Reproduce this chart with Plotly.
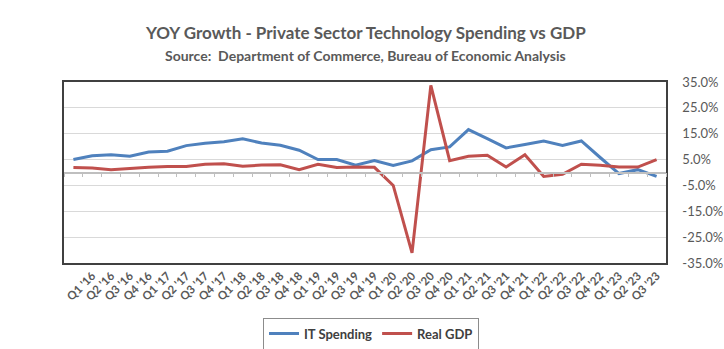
import plotly.graph_objects as go

quarters = ["Q4 '15",
            "Q1 '16", "Q2 '16", "Q3 '16", "Q4 '16",
            "Q1 '17", "Q2 '17", "Q3 '17", "Q4 '17",
            "Q1 '18", "Q2 '18", "Q3 '18", "Q4 '18",
            "Q1 '19", "Q2 '19", "Q3 '19", "Q4 '19",
            "Q1 '20", "Q2 '20", "Q3 '20", "Q4 '20",
            "Q1 '21", "Q2 '21", "Q3 '21", "Q4 '21",
            "Q1 '22", "Q2 '22", "Q3 '22", "Q4 '22",
            "Q1 '23", "Q2 '23", "Q3 '23"]
tick_labels = quarters[1:]

it_spending = [5.0, 6.5, 6.9, 6.3, 7.9, 8.2, 10.4, 11.3, 11.9, 13.0, 11.4, 10.5,
               8.6, 5.0, 5.0, 2.8, 4.6, 2.7, 4.5, 8.8, 9.9, 16.6, 13.1, 9.5,
               10.8, 12.2, 10.5, 12.2, 5.8, -0.4, 1.1, -1.5]
real_gdp = [1.9, 1.7, 1.1, 1.6, 2.0, 2.3, 2.3, 3.2, 3.4, 2.4, 2.9, 3.0,
            1.1, 3.2, 1.9, 2.1, 2.0, -5.0, -31.1, 33.7, 4.6, 6.3, 6.7, 2.1,
            6.9, -1.5, -0.7, 3.2, 2.8, 2.1, 2.1, 5.0]

y_ticks = [-35, -25, -15, -5, 5, 15, 25, 35]
y_tick_text = ["-35.0%", "-25.0%", "-15.0%", "-5.0%", "5.0%", "15.0%", "25.0%", "35.0%"]

BLUE = "#4F81BD"
RED = "#C0504D"
GREY = "#595959"
FONT = "Lato"
n = len(quarters)

fig = go.Figure()
fig.add_trace(go.Scatter(x=quarters, y=it_spending, mode="lines", name="IT Spending",
                         line=dict(color=BLUE, width=3)))
fig.add_trace(go.Scatter(x=quarters, y=real_gdp, mode="lines", name="Real GDP",
                         line=dict(color=RED, width=3)))

fig.update_layout(
    width=724, height=349,
    margin=dict(l=64, r=58, t=82, b=86, autoexpand=False),
    paper_bgcolor="white", plot_bgcolor="white",
    font=dict(family=FONT, color=GREY),
    showlegend=True,
    legend=dict(orientation="h", x=0.51, xanchor="center", y=-0.39, yanchor="middle",
                bordercolor="#8c8c8c", borderwidth=1,
                font=dict(family=FONT, size=13, color="#404040", weight="bold"),
                itemwidth=30, tracegroupgap=0),
    xaxis=dict(type="category", categoryorder="array", categoryarray=quarters,
               range=[-0.5, n - 0.5],
               tickmode="array", tickvals=tick_labels, ticktext=tick_labels,
               tickangle=-45, ticks="", showgrid=False,
               tickfont=dict(family=FONT, size=11.5, color=GREY, weight="bold"),
               showline=True, linecolor="#404040", linewidth=1.5, mirror=True),
    xaxis2=dict(type="linear", overlaying="x", anchor="free", position=0.5,
                range=[-0.5, n - 0.5], tickmode="linear", tick0=0.5, dtick=1,
                ticks="outside", ticklen=4, tickcolor="#bfbfbf", tickwidth=1,
                showticklabels=False, showgrid=False, zeroline=False,
                showline=True, linecolor="#bfbfbf", linewidth=1.5),
    yaxis=dict(side="right", range=[-35, 35], tickmode="array", tickvals=y_ticks,
               ticktext=y_tick_text, showgrid=True, gridcolor="#d9d9d9",
               gridwidth=1, zeroline=False, ticks="outside", ticklen=12,
               tickcolor="rgba(0,0,0,0)",
               tickfont=dict(family=FONT, size=13, color=GREY),
               showline=True, linecolor="#404040", linewidth=1.5, mirror=True),
)

fig.add_trace(go.Scatter(x=[0, n - 1], y=[None, None], xaxis="x2",
                         showlegend=False, hoverinfo="skip"))

fig.add_annotation(text="<b>YOY Growth - Private Sector Technology Spending vs GDP</b>",
                   xref="paper", yref="paper", x=0.5, y=1.0, yshift=50,
                   showarrow=False, font=dict(family=FONT, size=17, color=GREY),
                   xanchor="center", yanchor="middle")
fig.add_annotation(text="<b>Source:  Department of Commerce, Bureau of Economic Analysis</b>",
                   xref="paper", yref="paper", x=0.5, y=1.0, yshift=27,
                   showarrow=False, font=dict(family=FONT, size=14, color=GREY),
                   xanchor="center", yanchor="middle")

fig.write_html("out.html")
